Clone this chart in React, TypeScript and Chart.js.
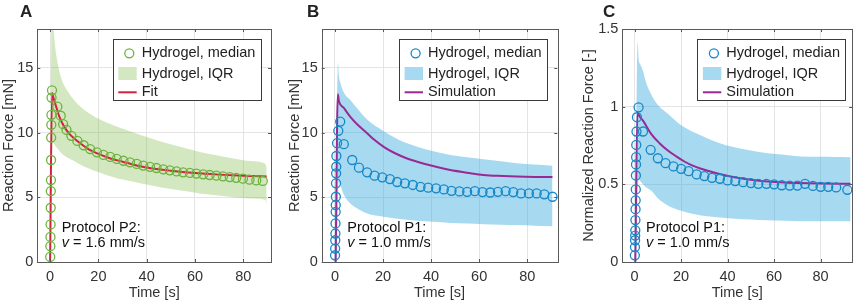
import React, { useEffect, useRef } from 'react';
import { Chart, registerables } from 'chart.js';
Chart.register(...registerables);

const FONT = '"Liberation Sans", Arial, Helvetica, sans-serif';

// ---------- Panel A ----------
const medianA_t = [0.05, 0.1, 0.15, 0.2, 0.25, 0.3, 0.35, 0.4, 0.45, 0.5, 0.55, 0.6, 0.8, 3.0, 4.4, 5.4, 6.8, 8.8, 11.3, 13.9, 16.6, 19.4, 22.1, 24.9, 27.6, 30.4, 33.1, 35.9, 38.6, 41.4, 44.1, 46.9, 49.6, 52.4, 55.1, 57.9, 60.6, 63.4, 66.1, 68.9, 71.6, 74.4, 77.1, 79.9, 82.6, 85.4, 88.1];
const medianA_v = [0.39, 1.22, 1.94, 2.9, 4.19, 5.48, 6.33, 7.88, 9.61, 10.6, 11.37, 12.7, 13.26, 12.0, 11.3, 10.65, 10.2, 9.75, 9.35, 9.02, 8.72, 8.47, 8.27, 8.12, 7.96, 7.82, 7.7, 7.58, 7.45, 7.35, 7.26, 7.16, 7.08, 7.0, 6.93, 6.88, 6.83, 6.77, 6.72, 6.67, 6.62, 6.56, 6.5, 6.44, 6.36, 6.3, 6.26];
const fitA_t = [0, 0.8, 1.5, 2.5, 4, 6, 8, 10, 13, 16, 20, 25, 30, 35, 40, 50, 60, 70, 80, 89.7];
const fitA_v = [0, 13.05, 12.6, 12.0, 11.15, 10.4, 9.9, 9.55, 9.1, 8.7, 8.35, 8.0, 7.75, 7.5, 7.3, 7.05, 6.87, 6.75, 6.66, 6.6];
const bandA_t = [0, 0.3, 0.6, 1.0, 2.0, 3.4, 5, 6.9, 10, 13.8, 20.7, 27, 34.5, 41, 48, 55, 62, 69, 76, 83, 89, 89.7];
const bandA_hi = [0, 10, 19.5, 19, 16.8, 15.1, 14.0, 13.3, 12.5, 11.8, 11.0, 10.5, 10.0, 9.6, 9.2, 8.85, 8.5, 8.25, 8.0, 7.8, 7.6, 7.3];
const bandA_lo = [0, 0.2, 5, 9.3, 9.0, 8.7, 8.35, 8.1, 7.8, 7.4, 6.9, 6.5, 6.2, 5.95, 5.7, 5.5, 5.3, 5.15, 5.0, 4.9, 4.8, 4.5];

// ---------- Panel B ----------
const medianB_t = [0.05, 0.1, 0.15, 0.2, 0.25, 0.3, 0.35, 0.4, 0.45, 0.5, 0.55, 0.6, 0.9, 1.4, 2.2, 3.7, 7.2, 10, 13.4, 16.5, 19.7, 22.9, 25.9, 29.1, 32.4, 35.6, 38.8, 42.1, 45.3, 48.5, 51.8, 55, 58.2, 61.4, 64.6, 67.8, 71, 74.2, 77.4, 80.7, 83.9, 87.1, 90.5];
const medianB_v = [0.52, 1.04, 1.68, 2.2, 2.98, 3.88, 4.4, 5.04, 6.08, 6.85, 7.36, 8.19, 9.18, 10.13, 10.85, 9.1, 7.88, 7.29, 6.93, 6.67, 6.54, 6.41, 6.18, 6.08, 5.95, 5.81, 5.74, 5.69, 5.61, 5.5, 5.45, 5.42, 5.47, 5.4, 5.37, 5.42, 5.47, 5.4, 5.3, 5.3, 5.3, 5.23, 5.04];
const simB_t = [0.3, 1.2, 1.7, 3.7, 6.5, 10, 13.4, 16, 20.3, 25, 30, 34.2, 40, 48, 55, 61.8, 70, 75.7, 83, 90.5];
const simB_v = [0, 12.95, 12.4, 11.9, 11.2, 10.5, 9.95, 9.5, 8.9, 8.4, 8.0, 7.75, 7.45, 7.1, 6.9, 6.72, 6.64, 6.6, 6.57, 6.56];
const bandB_t = [0, 0.6, 1.3, 1.6, 2.5, 4, 6.5, 10, 13.4, 20.3, 27, 34.2, 41, 48, 55, 61.8, 69, 75.7, 83, 90.5];
const bandB_hi = [0, 8, 15.4, 14.5, 13.7, 13.0, 12.5, 11.7, 11.0, 10.1, 9.4, 8.9, 8.55, 8.27, 8.1, 7.94, 7.78, 7.63, 7.53, 7.44];
const bandB_lo = [0, 0.1, 5.5, 6.3, 5.8, 5.1, 4.5, 4.05, 3.75, 3.5, 3.32, 3.18, 3.1, 3.02, 2.97, 2.92, 2.88, 2.85, 2.81, 2.77];

// ---------- Panel C ----------
const medianC_t = [0.1, 0.15, 0.2, 0.25, 0.3, 0.35, 0.4, 0.45, 0.5, 0.55, 0.6, 0.65, 0.7, 0.8, 1.0, 1.7, 3.6, 6.9, 10, 13.3, 16.7, 20, 23.2, 26.7, 30, 33.3, 36.7, 40, 43.3, 46.7, 50, 53.2, 56.7, 60, 63.3, 66.7, 70, 73.3, 76.7, 80, 83.3, 86.7, 91.5];
const medianC_v = [0.043, 0.096, 0.14, 0.17, 0.204, 0.27, 0.34, 0.397, 0.467, 0.557, 0.628, 0.675, 0.754, 0.84, 0.932, 0.996, 0.84, 0.722, 0.668, 0.636, 0.615, 0.6, 0.585, 0.564, 0.553, 0.542, 0.536, 0.525, 0.521, 0.514, 0.508, 0.503, 0.503, 0.5, 0.494, 0.492, 0.492, 0.503, 0.49, 0.484, 0.484, 0.48, 0.465];
const simC_t = [0.3, 1.2, 2, 3.6, 7.1, 10.7, 14.3, 17.9, 21.4, 25, 28.6, 35.7, 42.9, 50, 57.2, 64.3, 71.4, 80, 92.9];
const simC_v = [0, 0.964, 0.94, 0.91, 0.825, 0.765, 0.718, 0.68, 0.647, 0.62, 0.6, 0.57, 0.546, 0.53, 0.519, 0.512, 0.508, 0.505, 0.503];
const bandC_t = [0, 0.6, 1.3, 1.8, 2.5, 3.6, 5, 7.1, 10, 14.3, 20, 28.6, 35.7, 42.9, 50, 57.2, 64.3, 71.4, 80, 86, 92.9];
const bandC_hi = [0, 0.6, 1.42, 1.3, 1.27, 1.23, 1.15, 1.08, 1.01, 0.954, 0.88, 0.814, 0.77, 0.739, 0.718, 0.7, 0.69, 0.679, 0.677, 0.676, 0.675];
const bandC_lo = [0, 0.05, 0.45, 0.53, 0.52, 0.5, 0.48, 0.46, 0.41, 0.364, 0.33, 0.3, 0.288, 0.279, 0.273, 0.268, 0.265, 0.263, 0.262, 0.262, 0.262];

// ---------- Ticks ----------
const xTicks = [0, 20, 40, 60, 80];
const yTicksForce = [0, 5, 10, 15];
const yTicksNorm = [0, 0.5, 1, 1.5];

const legendLabels = ['Hydrogel, median', 'Hydrogel, IQR'];

const pts = (t: number[], v: number[]) => t.map((x, i) => ({ x, y: v[i] }));

type Panel = {
  letter: string;
  left: number;
  width: number;
  yw: number;
  rp: number;
  xmin: number;
  xmax: number;
  ymax: number;
  yTicks: number[];
  yTitle: string;
  yTitlePad: number;
  med: [number[], number[]];
  line: [number[], number[]];
  band: [number[], number[], number[]];
  lineLabel: string;
  markerColor: string;
  lineColor: string;
  bandColor: string;
  legendX: number;
  letterX: number;
  noteX: number;
  note1: string;
  note2: string;
};

const PANELS: Panel[] = [
  {
    letter: 'A', left: 0, width: 286, yw: 37.3, rp: 15, xmin: -5.3, xmax: 91.5, ymax: 18,
    yTicks: yTicksForce, yTitle: 'Reaction Force [mN]', yTitlePad: 0,
    med: [medianA_t, medianA_v], line: [fitA_t, fitA_v], band: [bandA_t, bandA_lo, bandA_hi],
    lineLabel: 'Fit', markerColor: '#6db33f', lineColor: '#d4213d', bandColor: 'rgba(119,182,60,0.32)',
    legendX: 112.7, letterX: 20, noteX: 61.7, note1: 'Protocol P2:', note2: ' = 1.6 mm/s',
  },
  {
    letter: 'B', left: 286, width: 286, yw: 35.7, rp: 14.7, xmin: -5.5, xmax: 92.5, ymax: 18,
    yTicks: yTicksForce, yTitle: 'Reaction Force [mN]', yTitlePad: 0,
    med: [medianB_t, medianB_v], line: [simB_t, simB_v], band: [bandB_t, bandB_lo, bandB_hi],
    lineLabel: 'Simulation', markerColor: '#1688c8', lineColor: '#992a93', bandColor: 'rgba(60,170,225,0.45)',
    legendX: 113, letterX: 21, noteX: 61.3, note1: 'Protocol P1:', note2: ' = 1.0 mm/s',
  },
  {
    letter: 'C', left: 572, width: 286, yw: 50.3, rp: 5, xmin: -5.3, xmax: 93.6, ymax: 1.5,
    yTicks: yTicksNorm, yTitle: 'Normalized Reaction Force [-]', yTitlePad: 8,
    med: [medianC_t, medianC_v], line: [simC_t, simC_v], band: [bandC_t, bandC_lo, bandC_hi],
    lineLabel: 'Simulation', markerColor: '#1688c8', lineColor: '#992a93', bandColor: 'rgba(60,170,225,0.45)',
    legendX: 125.3, letterX: 31, noteX: 74, note1: 'Protocol P1:', note2: ' = 1.0 mm/s',
  },
];

const TEXT = '#333333';
const GRID = '#e4e4e4';
const FS = 14.5;

function PanelChart({ p }: { p: Panel }) {
  const ref = useRef<HTMLCanvasElement | null>(null);
  useEffect(() => {
    if (!ref.current) return;
    const overlay = {
      id: 'overlay' + p.letter,
      afterDraw(chart: any) {
        const ctx = chart.ctx as CanvasRenderingContext2D;
        const a = chart.chartArea;
        const xs = chart.scales.x;
        const ys = chart.scales.y;
        ctx.save();
        // inner ticks
        ctx.strokeStyle = '#555';
        ctx.lineWidth = 1;
        ctx.beginPath();
        xTicks.forEach((v) => {
          const px = Math.round(xs.getPixelForValue(v)) + 0.5;
          ctx.moveTo(px, a.bottom); ctx.lineTo(px, a.bottom - 3);
          ctx.moveTo(px, a.top); ctx.lineTo(px, a.top + 3);
        });
        p.yTicks.forEach((v) => {
          const py = Math.round(ys.getPixelForValue(v)) + 0.5;
          ctx.moveTo(a.left, py); ctx.lineTo(a.left + 3, py);
          ctx.moveTo(a.right, py); ctx.lineTo(a.right - 3, py);
        });
        ctx.stroke();
        // box
        ctx.strokeStyle = '#5a5a5a';
        ctx.strokeRect(Math.round(a.left) + 0.5, Math.round(a.top) + 0.5, Math.round(a.right - a.left), Math.round(a.bottom - a.top));
        // legend
        const lx = p.legendX, ly = 39.3, lw = 148, lh = 61;
        ctx.fillStyle = '#ffffff';
        ctx.fillRect(lx, ly, lw, lh);
        ctx.strokeStyle = '#3a3a3a';
        ctx.strokeRect(Math.round(lx) + 0.5, Math.round(ly) + 0.5, lw, lh);
        const rows = [53.3, 73.5, 92.3];
        ctx.beginPath();
        ctx.arc(lx + 16.6, rows[0], 4.5, 0, Math.PI * 2);
        ctx.strokeStyle = p.markerColor;
        ctx.lineWidth = 1.3;
        ctx.stroke();
        ctx.fillStyle = p.bandColor;
        ctx.fillRect(lx + 5.6, rows[1] - 6.5, 18.4, 13);
        ctx.beginPath();
        ctx.moveTo(lx + 5.6, rows[2]); ctx.lineTo(lx + 24, rows[2]);
        ctx.strokeStyle = p.lineColor;
        ctx.lineWidth = 2;
        ctx.stroke();
        ctx.fillStyle = '#222';
        ctx.font = `${FS}px ${FONT}`;
        ctx.textBaseline = 'middle';
        ctx.textAlign = 'left';
        ctx.fillText(legendLabels[0], lx + 29, rows[0]);
        ctx.fillText(legendLabels[1], lx + 29, rows[1]);
        ctx.fillText(p.lineLabel, lx + 29, rows[2]);
        // note
        ctx.fillStyle = '#111';
        ctx.fillText(p.note1, p.noteX, 228);
        ctx.font = `italic ${FS}px ${FONT}`;
        ctx.fillText('v', p.noteX, 243);
        const vw = ctx.measureText('v').width;
        ctx.font = `${FS}px ${FONT}`;
        ctx.fillText(p.note2, p.noteX + vw, 243);
        // panel letter
        ctx.font = `bold 17px ${FONT}`;
        ctx.fillStyle = '#222';
        ctx.textBaseline = 'alphabetic';
        ctx.fillText(p.letter, p.letterX, 16.5);
        ctx.restore();
      },
    };
    const tickFont = { family: FONT, size: FS };
    const chart = new Chart(ref.current, {
      type: 'line',
      data: {
        datasets: [
          {
            label: 'median', data: pts(p.med[0], p.med[1]), showLine: false,
            pointRadius: 4.5, pointHoverRadius: 4.5, pointBorderWidth: 1.3,
            pointBorderColor: p.markerColor, pointBackgroundColor: 'rgba(0,0,0,0)',
            borderColor: p.markerColor, backgroundColor: 'rgba(0,0,0,0)', order: 0, clip: false,
          } as any,
          {
            label: 'line', data: pts(p.line[0], p.line[1]), borderColor: p.lineColor, borderWidth: 2,
            pointRadius: 0, cubicInterpolationMode: 'monotone', fill: false, order: 1,
          },
          {
            label: 'hi', data: pts(p.band[0], p.band[2]), borderWidth: 0, borderColor: 'rgba(0,0,0,0)',
            pointRadius: 0, cubicInterpolationMode: 'monotone', fill: '+1', backgroundColor: p.bandColor, order: 2,
          },
          {
            label: 'lo', data: pts(p.band[0], p.band[1]), borderWidth: 0, borderColor: 'rgba(0,0,0,0)',
            pointRadius: 0, cubicInterpolationMode: 'monotone', fill: false, order: 3,
          },
        ],
      },
      options: {
        animation: false,
        responsive: true,
        maintainAspectRatio: false,
        events: [],
        layout: { padding: { left: 0, right: p.rp, top: 29, bottom: 0 } },
        plugins: { legend: { display: false }, tooltip: { enabled: false } },
        scales: {
          x: {
            type: 'linear', min: p.xmin, max: p.xmax,
            afterBuildTicks: (s: any) => { s.ticks = xTicks.map((v) => ({ value: v })); },
            afterFit: (s: any) => { s.height = 42; },
            grid: { color: GRID, drawTicks: false },
            border: { display: false },
            ticks: { font: tickFont, color: TEXT, padding: 6, maxRotation: 0, autoSkip: false, callback: (v: any) => String(v) },
            title: { display: true, text: 'Time [s]', font: tickFont, color: TEXT, padding: { top: 0, bottom: 2 } },
          },
          y: {
            type: 'linear', min: 0, max: p.ymax,
            afterBuildTicks: (s: any) => { s.ticks = p.yTicks.map((v) => ({ value: v })); },
            afterFit: (s: any) => { s.width = p.yw; },
            grid: { color: GRID, drawTicks: false },
            border: { display: false },
            ticks: { font: tickFont, color: TEXT, padding: 4, autoSkip: false, callback: (v: any) => String(v) },
            title: { display: true, text: p.yTitle, font: tickFont, color: TEXT, padding: { top: p.yTitlePad, bottom: 0 } },
          },
        },
      },
      plugins: [overlay],
    } as any);
    return () => chart.destroy();
  }, [p]);
  return (
    <div style={{ position: 'absolute', left: p.left, top: 0, width: p.width, height: 304 }}>
      <canvas ref={ref} />
    </div>
  );
}

export default function App() {
  return (
    <div style={{ position: 'absolute', left: 0, top: 0, width: 858, height: 304, background: '#fff', overflow: 'hidden' }}>
      {PANELS.map((p) => (
        <PanelChart key={p.letter} p={p} />
      ))}
    </div>
  );
}
